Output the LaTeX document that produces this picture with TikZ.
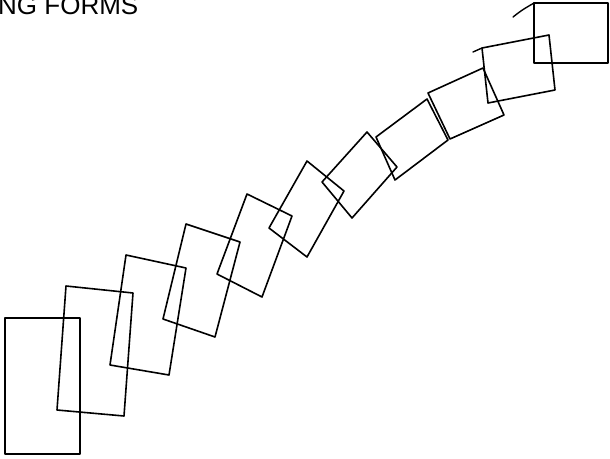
\documentclass[tikz,border=0pt]{standalone}
\usepackage{fontspec}
\setmainfont{Liberation Sans}
\begin{document}
\begin{tikzpicture}[x=1pt,y=-1pt,
  frame/.style={draw=black,line width=1.6pt,line join=round},
  stray/.style={draw=black,line width=1.4pt,line cap=round}]
\useasboundingbox (0,0) rectangle (610,458);
\clip (0,0) rectangle (610,458);
\node[anchor=base west,inner sep=0pt,font=\fontsize{26}{26}\selectfont] (title) at (-2,14.3) {NG FORMS};
% rectangles
\draw[frame] (5,318) -- (80,318) -- (80,454) -- (5,454) -- cycle;
\draw[frame] (66,286) -- (133,293) -- (124,416) -- (57,410) -- cycle;
\draw[frame] (126,255) -- (186,268) -- (169,375) -- (110,365) -- cycle;
\draw[frame] (186,224) -- (240,242) -- (215,337) -- (163,319) -- cycle;
\draw[frame] (247,194) -- (292,216) -- (262,297) -- (217,274) -- cycle;
\draw[frame] (307,161) -- (344,191) -- (307,257) -- (269,228) -- cycle;
\draw[frame] (367,132) -- (397,167) -- (352,218) -- (322,182) -- cycle;
\draw[frame] (427,99) -- (448,140) -- (395,180) -- (376,137) -- cycle;
\draw[frame] (428,93) -- (483,68) -- (504,115) -- (450,139) -- cycle;
\draw[frame] (482,48) -- (549,35) -- (555,90) -- (488,103) -- cycle;
\draw[frame] (534,3) -- (608,3) -- (608,63) -- (534,63) -- cycle;
% stray ticks
\coordinate (t1a) at (473,52); \coordinate (t1b) at (482,48);
\coordinate (t2a) at (513,17); \coordinate (t2b) at (534,3);
\draw[stray] (t1a) -- (t1b);
\draw[stray] (t2a) .. controls (522,10) .. (t2b);
\end{tikzpicture}
\end{document}
